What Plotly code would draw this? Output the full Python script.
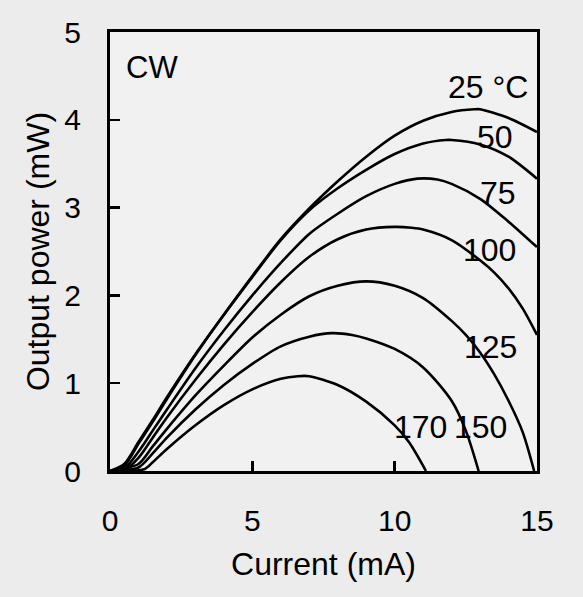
import plotly.graph_objects as go

# ---- data ----
temps = ["25 °C", "50", "75", "100", "125", "150", "170"]

current_25 = [0, 0.5, 1, 1.5, 2, 3, 4, 5, 6, 7, 8, 9, 10, 11, 12, 12.8, 13, 14, 15]
power_25 = [0, 0.08, 0.33, 0.58, 0.84, 1.33, 1.78, 2.22, 2.64, 2.99, 3.30, 3.58, 3.82, 3.99, 4.09, 4.12, 4.12, 4.02, 3.86]

current_50 = [0, 0.5, 1, 1.5, 2, 3, 4, 5, 6, 7, 8, 9, 10, 11, 11.8, 12, 13, 14, 15]
power_50 = [0, 0.06, 0.31, 0.56, 0.82, 1.32, 1.78, 2.21, 2.63, 2.97, 3.22, 3.43, 3.61, 3.73, 3.77, 3.77, 3.72, 3.58, 3.33]

current_75 = [0, 0.5, 1, 1.5, 2, 3, 4, 5, 6, 7, 8, 9, 10, 10.8, 11.5, 12, 13, 14, 15]
power_75 = [0, 0.03, 0.22, 0.46, 0.70, 1.17, 1.60, 2.00, 2.37, 2.70, 2.93, 3.13, 3.27, 3.33, 3.32, 3.27, 3.10, 2.84, 2.55]

current_100 = [0, 0.5, 1, 1.5, 2, 3, 4, 5, 6, 7, 8, 9, 10, 10.6, 11, 12, 13, 13.5, 14, 14.5, 15]
power_100 = [0, 0.01, 0.15, 0.38, 0.61, 1.04, 1.44, 1.81, 2.15, 2.44, 2.64, 2.75, 2.78, 2.77, 2.75, 2.63, 2.40, 2.26, 2.08, 1.85, 1.55]

current_125 = [0, 1, 1.5, 2, 3, 4, 5, 6, 7, 8, 9, 10, 11, 12, 12.5, 13, 13.5, 14, 14.5, 14.9]
power_125 = [0, 0.08, 0.28, 0.48, 0.86, 1.20, 1.52, 1.78, 1.99, 2.11, 2.16, 2.11, 1.97, 1.71, 1.55, 1.35, 1.10, 0.80, 0.44, 0.0]

current_150 = [0, 1, 1.5, 2, 3, 4, 5, 6, 7, 7.8, 8.5, 9, 10, 11, 12, 12.5, 12.95]
power_150 = [0, 0.04, 0.20, 0.38, 0.70, 0.98, 1.22, 1.42, 1.53, 1.57, 1.55, 1.51, 1.39, 1.18, 0.80, 0.46, 0.0]

current_170 = [0, 1.2, 1.5, 2, 3, 4, 5, 6, 6.6, 7, 8, 9, 10, 10.5, 11.1]
power_170 = [0, 0.02, 0.10, 0.25, 0.52, 0.75, 0.93, 1.05, 1.08, 1.08, 0.98, 0.79, 0.52, 0.33, 0.0]

# label anchor positions (data units)
label_x = [13.28, 13.52, 13.63, 13.32, 13.35, 13.0, 10.89]
label_y = [4.37, 3.80, 3.17, 2.52, 1.41, 0.50, 0.50]

x_ticks = [0, 5, 10, 15]
y_ticks = [0, 1, 2, 3, 4, 5]

series = [
    (current_25, power_25),
    (current_50, power_50),
    (current_75, power_75),
    (current_100, power_100),
    (current_125, power_125),
    (current_150, power_150),
    (current_170, power_170),
]

FONT = "Liberation Sans, Arial, Helvetica, sans-serif"
PAPER = "#ececec"

fig = go.Figure()
for name, (xs, ys) in zip(temps, series):
    fig.add_trace(go.Scatter(
        x=xs, y=ys, mode="lines", name=name,
        line=dict(color="black", width=2.6, shape="spline", smoothing=0.8),
        showlegend=False, hoverinfo="skip",
    ))

for t, lx, ly in zip(temps, label_x, label_y):
    fig.add_annotation(x=lx, y=ly, xref="x", yref="y", text=t, showarrow=False,
                       font=dict(family=FONT, size=32, color="black"))

fig.add_annotation(x=1.48, y=4.60, xref="x", yref="y", text="CW", showarrow=False,
                   font=dict(family=FONT, size=31, color="black"))

fig.update_layout(
    width=583, height=597,
    margin=dict(l=110, r=46, t=32, b=126),
    paper_bgcolor=PAPER,
    plot_bgcolor="#f1f1f1",
    font=dict(family=FONT, color="black"),
)

fig.update_xaxes(
    range=[0, 15], tickvals=x_ticks, ticktext=[str(v) for v in x_ticks],
    showgrid=False, zeroline=False,
    showline=True, linecolor="black", linewidth=3, mirror=True,
    ticks="inside", ticklen=10, tickwidth=2.5, tickcolor="black",
    tickfont=dict(family=FONT, size=30, color="black"),
    ticklabelstandoff=21,
    title=dict(text="Current (mA)", font=dict(family=FONT, size=32, color="black"), standoff=17),
    automargin=False,
)
fig.update_yaxes(
    range=[0, 5], tickvals=y_ticks, ticktext=[str(v) for v in y_ticks],
    showgrid=False, zeroline=False,
    showline=True, linecolor="black", linewidth=3, mirror=True,
    ticks="inside", ticklen=10, tickwidth=2.5, tickcolor="black",
    tickfont=dict(family=FONT, size=30, color="black"),
    ticklabelstandoff=20,
    title=dict(text="Output power (mW)", font=dict(family=FONT, size=32, color="black"), standoff=6),
    automargin=False,
)

fig.write_html(
    "out.html",
    config={"displayModeBar": False, "staticPlot": True},
    post_script="document.body.style.margin='0';document.body.style.overflow='hidden';"
                "document.body.style.background='" + PAPER + "';",
)
